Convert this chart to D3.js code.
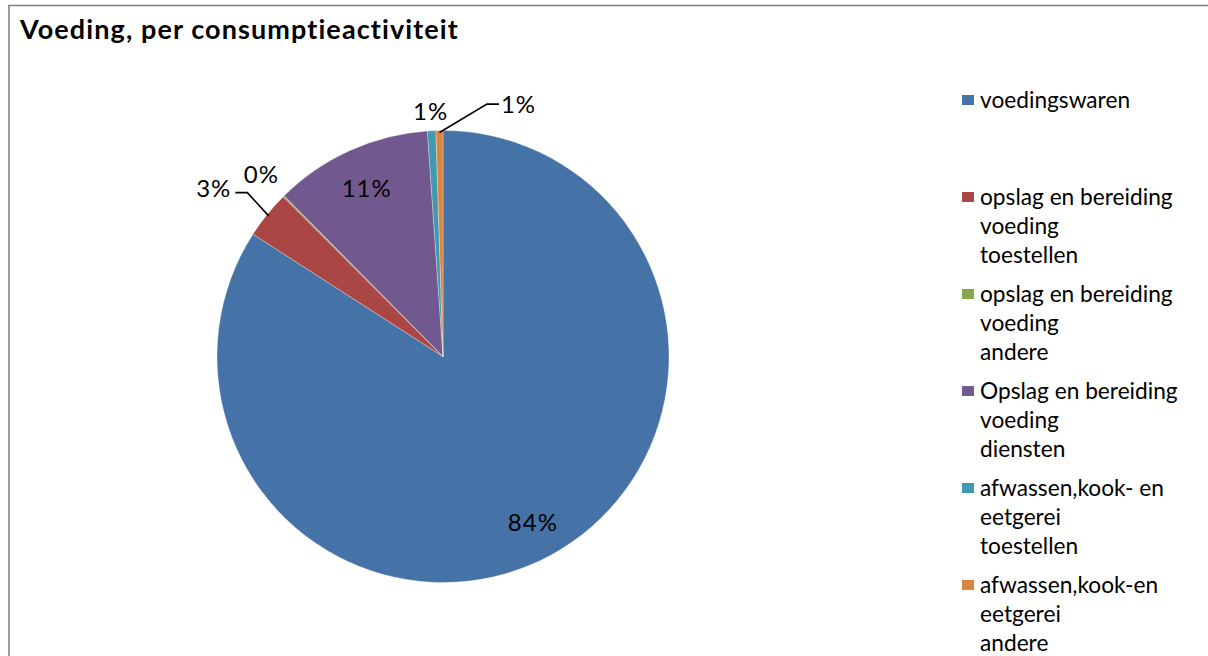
<!DOCTYPE html>
<html>
<head>
<meta charset="utf-8">
<script src="https://cdn.jsdelivr.net/npm/d3@7"></script>
<style>
  body { margin: 0; background: #fff; }
  svg { display: block; }
</style>
</head>
<body>
<div class="chart"></div>
<script>
// data
let categories = [
  "voedingswaren",
  "opslag en bereiding voeding toestellen",
  "opslag en bereiding voeding andere",
  "Opslag en bereiding voeding diensten",
  "afwassen,kook- en eetgerei toestellen",
  "afwassen,kook-en eetgerei andere"
];
let legendLines = [
  ["voedingswaren"],
  ["opslag en bereiding", "voeding", "toestellen"],
  ["opslag en bereiding", "voeding", "andere"],
  ["Opslag en bereiding", "voeding", "diensten"],
  ["afwassen,kook- en", "eetgerei", "toestellen"],
  ["afwassen,kook-en", "eetgerei", "andere"]
];
let values = [84.1, 3.4, 0.1, 11.3, 0.6, 0.5];
let colors = ["#4572A7", "#AA4643", "#89A54E", "#71588F", "#4198AF", "#DB843D"];

// label placement per slice: radius factor, angle shift (deg), leader side
let labelPlace = [
  { k: 0.83, shift: 0, leader: null },
  { k: 1.26, shift: -2.5, leader: "left" },
  { k: 1.14, shift: 0, leader: null },
  { k: 0.82, shift: 0, leader: null },
  { k: 1.09, shift: 0, leader: null },
  { k: 1.17, shift: 17.5, leader: "right" }
];

let config = {
  width: 1208,
  height: 656,
  cx: 443,
  cy: 356.5,
  r: 226,
  font: "Lato, 'Open Sans', sans-serif"
};

let svg = d3.select(".chart").append("svg")
  .attr("width", config.width)
  .attr("height", config.height);

// chart border
svg.append("rect")
  .attr("x", 9).attr("y", 5.5)
  .attr("width", 1400).attr("height", 1000)
  .attr("fill", "none")
  .attr("stroke", "#868686")
  .attr("stroke-width", 1.6);

svg.append("text")
  .attr("x", 20).attr("y", 39)
  .attr("font-family", config.font)
  .attr("font-weight", "bold")
  .attr("font-size", "27px")
  .attr("letter-spacing", "1.1px")
  .attr("fill", "#000")
  .text("Voeding, per consumptieactiviteit");

let pie = d3.pie().sort(null).value(d => d);
let arcs = pie(values);

let arc = d3.arc().innerRadius(0).outerRadius(config.r);

let g = svg.append("g")
  .attr("transform", "translate(" + config.cx + "," + config.cy + ")");

g.selectAll("path.slice")
  .data(arcs)
  .enter().append("path")
  .attr("class", "slice")
  .attr("d", arc)
  .attr("fill", (d, i) => colors[i])
  .attr("stroke", "#fff")
  .attr("stroke-opacity", 0.5)
  .attr("stroke-width", 0.6);

function polar(angle, radius) {
  return [Math.sin(angle) * radius, -Math.cos(angle) * radius];
}

let degree = Math.PI / 180;

let labels = g.selectAll("text.lbl")
  .data(arcs)
  .enter().append("text")
  .attr("class", "lbl")
  .attr("font-family", config.font)
  .attr("font-size", "24px")
  .attr("letter-spacing", "1px")
  .attr("fill", "#000")
  .attr("text-anchor", "middle")
  .attr("dominant-baseline", "central")
  .each(function(d, i) {
    let p = labelPlace[i];
    let mid = (d.startAngle + d.endAngle) / 2 + p.shift * degree;
    let pos = polar(mid, config.r * p.k);
    d3.select(this).attr("x", pos[0]).attr("y", pos[1]);
  })
  .text(d => Math.round(d.value) + "%");

// leader lines
labels.each(function(d, i) {
  let p = labelPlace[i];
  if (!p.leader) return;
  let box = this.getBBox();
  let mid = (d.startAngle + d.endAngle) / 2;
  let start = polar(mid, config.r - 2);
  let y = box.y + box.height / 2 + 5;
  let end, elbow;
  if (p.leader === "left") {
    end = [box.x + box.width + 4, y];
    elbow = [end[0] + 12, y];
  } else {
    end = [box.x - 2, y - 4];
    elbow = [end[0] - 12, y - 4];
  }
  g.append("path")
    .attr("d", d3.line()([start, elbow, end]))
    .attr("fill", "none")
    .attr("stroke", "#000")
    .attr("stroke-width", 1.6);
});

// legend
let legend = svg.append("g").attr("transform", "translate(962,100)");
let legendStep = 97;
let lineStep = 29;

let items = legend.selectAll("g.item")
  .data(categories)
  .enter().append("g")
  .attr("class", "item")
  .attr("transform", (d, i) => "translate(0," + (i * legendStep) + ")");

items.append("rect")
  .attr("x", 0).attr("y", -5)
  .attr("width", 12).attr("height", 10)
  .attr("fill", (d, i) => colors[i]);

items.append("text")
  .attr("font-family", config.font)
  .attr("font-size", "22.7px")
  .attr("fill", "#000")
  .selectAll("tspan")
  .data((d, i) => legendLines[i])
  .enter().append("tspan")
  .attr("x", 18)
  .attr("y", (d, j) => j * lineStep)
  .attr("dy", "0.35em")
  .text(d => d);
</script>
</body>
</html>
